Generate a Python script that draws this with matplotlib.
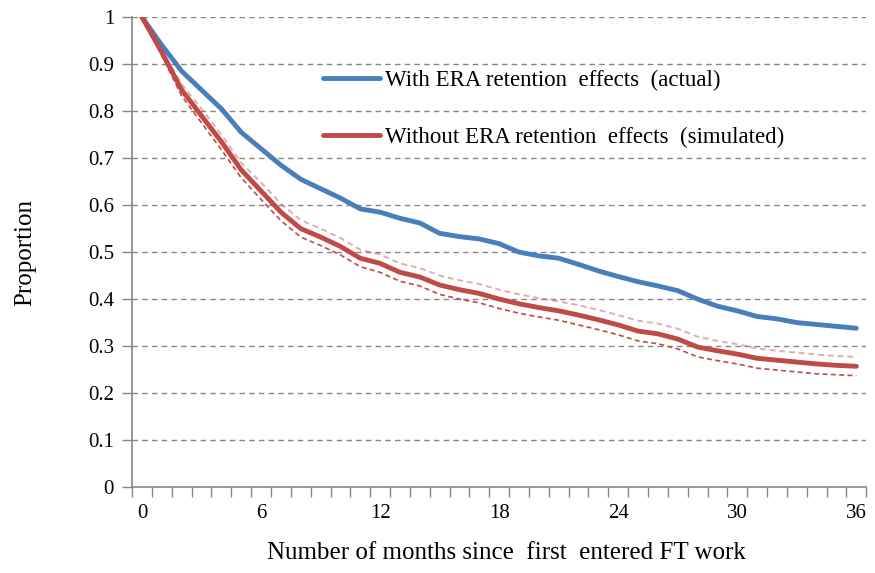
import numpy as np
import matplotlib
matplotlib.use("Agg")
import matplotlib.pyplot as plt
from matplotlib.ticker import MultipleLocator, FixedLocator

plt.rcParams["font.family"] = ["Liberation Serif", "DejaVu Serif"]

months = list(range(37))

with_era = [1.0, 0.94, 0.885, 0.845, 0.805, 0.755, 0.72, 0.685, 0.655, 0.635,
            0.615, 0.592, 0.585, 0.572, 0.562, 0.54, 0.533, 0.528, 0.518, 0.50,
            0.492, 0.487, 0.474, 0.46, 0.448, 0.437, 0.428, 0.418, 0.40, 0.385,
            0.375, 0.363, 0.358, 0.35, 0.346, 0.342, 0.338]

without_era = [1.0, 0.925, 0.845, 0.79, 0.735, 0.675, 0.63, 0.585, 0.55, 0.532,
               0.512, 0.487, 0.476, 0.457, 0.447, 0.43, 0.42, 0.412, 0.40, 0.39,
               0.382, 0.375, 0.366, 0.356, 0.345, 0.332, 0.326, 0.315, 0.298, 0.29,
               0.283, 0.274, 0.27, 0.266, 0.262, 0.259, 0.257]

without_upper = [1.0, 0.93, 0.857, 0.805, 0.75, 0.69, 0.648, 0.603, 0.568, 0.55,
                 0.53, 0.505, 0.495, 0.476, 0.466, 0.45, 0.44, 0.432, 0.42, 0.41,
                 0.402, 0.395, 0.387, 0.377, 0.366, 0.354, 0.348, 0.337, 0.32, 0.311,
                 0.304, 0.295, 0.29, 0.286, 0.282, 0.279, 0.277]

without_lower = [1.0, 0.918, 0.832, 0.775, 0.718, 0.658, 0.612, 0.567, 0.532, 0.514,
                 0.494, 0.469, 0.457, 0.438, 0.428, 0.41, 0.40, 0.392, 0.38, 0.37,
                 0.362, 0.355, 0.345, 0.335, 0.324, 0.311, 0.305, 0.294, 0.277, 0.269,
                 0.262, 0.253, 0.249, 0.245, 0.241, 0.239, 0.237]

x_labels = [0, 6, 12, 18, 24, 30, 36]

blue = "#4a7ebb"
red = "#be4b48"
grey = "#868686"

fig = plt.figure(figsize=(8.75, 5.73), dpi=100)
ax = fig.add_axes([0.151, 0.150, 0.839, 0.820])

ax.plot(months, without_upper, color=red, alpha=0.45, lw=1.4, ls=(0, (3, 2)))
ax.plot(months, without_lower, color=red, lw=1.2, ls=(0, (3, 2)))
ax.plot(months, with_era, color=blue, lw=3.5, solid_capstyle="round",
        label="With ERA retention  effects  (actual)")
ax.plot(months, without_era, color=red, lw=3.5, solid_capstyle="round",
        label="Without ERA retention  effects  (simulated)")

ax.set_xlim(-0.5, 36.5)
ax.set_ylim(0, 1)

ax.yaxis.set_major_locator(MultipleLocator(0.1))
ax.set_yticklabels([f"{v:g}" for v in np.round(ax.get_yticks(), 1)])
for v in np.arange(0.1, 1.01, 0.1):
    ax.axhline(v, color=grey, lw=1, ls=(0, (4, 3)), zorder=0)

ax.xaxis.set_major_locator(FixedLocator(x_labels))
ax.xaxis.set_minor_locator(FixedLocator(np.arange(-0.5, 37, 1)))
ax.tick_params(axis="x", which="major", length=0, pad=12, labelsize=15)
ax.tick_params(axis="x", which="minor", length=7, width=1, color=grey)
ax.tick_params(axis="y", length=7, width=1, color=grey, labelsize=15, pad=6)

for s in ["top", "right"]:
    ax.spines[s].set_visible(False)
for s in ["left", "bottom"]:
    ax.spines[s].set_color(grey)
    ax.spines[s].set_linewidth(1.2)

ax.set_ylabel("Proportion", fontsize=18)
ax.yaxis.set_label_coords(-0.131, 0.5)
ax.set_xlabel("Number of months since  first  entered FT work", fontsize=18)
ax.xaxis.set_label_coords(0.51, -0.117)

ax.legend(loc="upper left", bbox_to_anchor=(0.244, 0.913), frameon=False,
          fontsize=16.5, handlelength=2.5, handletextpad=0.2, labelspacing=1.6,
          borderpad=0)

fig.savefig("out.png", dpi=100)
